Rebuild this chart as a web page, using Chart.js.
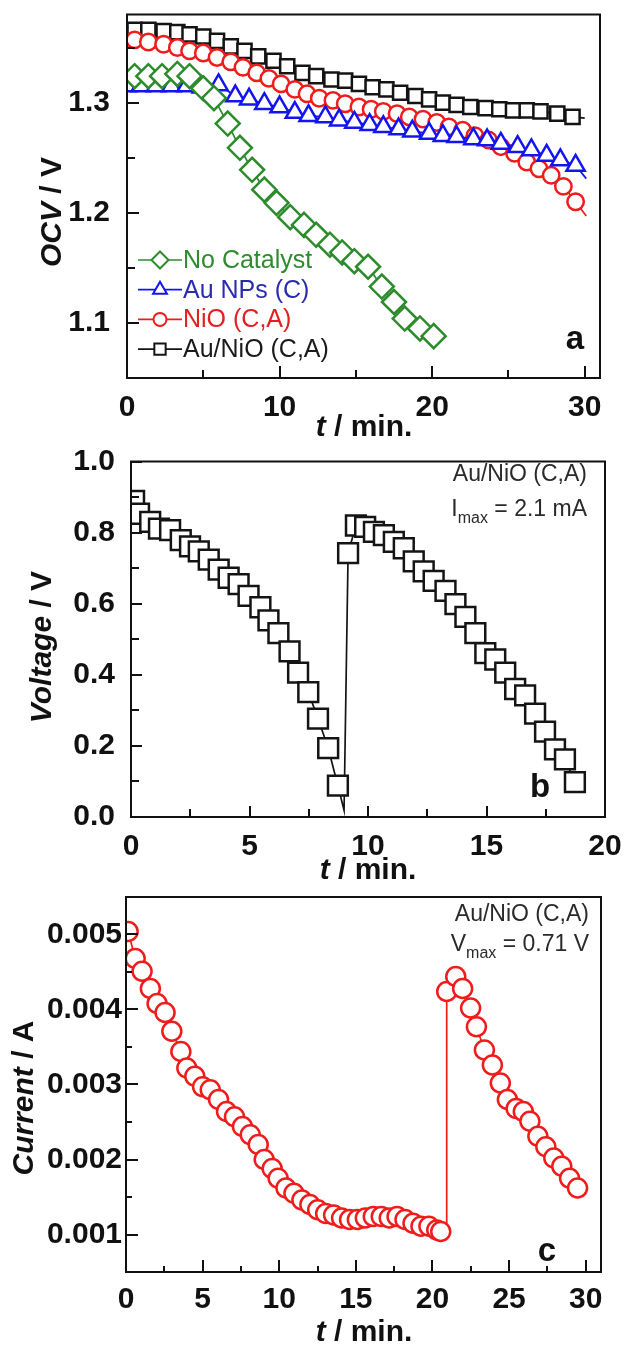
<!DOCTYPE html>
<html>
<head>
<meta charset="utf-8">
<script src="https://cdn.jsdelivr.net/npm/chart.js@4.4.1/dist/chart.umd.min.js"></script>
<style>
  html, body { margin: 0; padding: 0; background: #fff; }
  #wrap { position: relative; width: 624px; height: 1346px; background: #fff; overflow: hidden; }
  #wrap canvas { position: absolute; left: 0; }
</style>
</head>
<body>
<div id="wrap">
  <canvas id="panelA" width="624" height="445" style="top:0px"></canvas>
  <canvas id="panelB" width="624" height="440" style="top:445px"></canvas>
  <canvas id="panelC" width="624" height="461" style="top:885px"></canvas>
</div>
<script>
// ---------- (a) open-circuit voltage, four electrode configurations ----------
const tNoCat   = [0.5, 1.4, 2.3, 3.3, 4.1, 5.0, 5.7, 6.6, 7.4, 8.2, 9.0, 9.8, 10.7, 11.6, 12.4, 13.3, 14.1, 14.9, 15.8, 16.7, 17.5, 18.2, 19.2, 20.1];
const ocvNoCat = [1.324, 1.324, 1.324, 1.326, 1.324, 1.313, 1.304, 1.281, 1.259, 1.239, 1.221, 1.209, 1.196, 1.189, 1.180, 1.171, 1.164, 1.156, 1.151, 1.133, 1.119, 1.104, 1.095, 1.088];

const tAuNP   = [0.0, 0.9, 1.9, 2.9, 3.9, 4.9, 6.0, 7.1, 8.0, 9.0, 10.0, 11.0, 11.9, 13.0, 13.9, 14.9, 15.9, 16.8, 17.8, 18.7, 19.8, 20.7, 21.6, 22.7, 23.6, 24.5, 25.6, 26.5, 27.5, 28.4, 29.4, 30.1];
const ocvAuNP = [1.315, 1.315, 1.315, 1.315, 1.315, 1.314, 1.316, 1.306, 1.303, 1.299, 1.296, 1.291, 1.288, 1.287, 1.284, 1.282, 1.280, 1.278, 1.276, 1.274, 1.272, 1.270, 1.269, 1.267, 1.266, 1.263, 1.260, 1.257, 1.252, 1.248, 1.243, 1.231];

const tNiO   = [0.5, 1.4, 2.4, 3.3, 4.1, 5.0, 5.9, 6.8, 7.6, 8.5, 9.3, 10.1, 11.0, 11.8, 12.6, 13.5, 14.3, 15.2, 16.0, 16.8, 17.7, 18.5, 19.4, 20.3, 21.1, 22.0, 22.8, 23.7, 24.5, 25.4, 26.2, 27.0, 27.8, 28.6, 29.4, 30.1];
const ocvNiO = [1.357, 1.355, 1.353, 1.350, 1.347, 1.345, 1.341, 1.337, 1.332, 1.327, 1.322, 1.317, 1.312, 1.308, 1.304, 1.302, 1.299, 1.296, 1.294, 1.292, 1.290, 1.287, 1.285, 1.282, 1.278, 1.275, 1.270, 1.266, 1.260, 1.254, 1.246, 1.240, 1.234, 1.224, 1.210, 1.197];

const tAuNiO   = [0.5, 1.4, 2.4, 3.3, 4.1, 5.0, 5.9, 6.8, 7.7, 8.6, 9.6, 10.5, 11.5, 12.4, 13.4, 14.3, 15.2, 16.1, 17.0, 17.9, 18.9, 19.8, 20.7, 21.6, 22.5, 23.5, 24.4, 25.3, 26.2, 27.1, 28.2, 29.2, 30.0];
const ocvAuNiO = [1.366, 1.366, 1.365, 1.364, 1.362, 1.360, 1.356, 1.351, 1.347, 1.342, 1.338, 1.333, 1.327, 1.324, 1.321, 1.320, 1.317, 1.314, 1.312, 1.309, 1.306, 1.303, 1.300, 1.298, 1.296, 1.295, 1.294, 1.293, 1.293, 1.292, 1.290, 1.287, 1.286];

// samples that belong to the trace but carry no marker (end of the recording)
const auNPTail = [31], niOTail = [35], auNiOTail = [32];

const ocvTicks = [1.1, 1.2, 1.3], ocvMinor = [1.15, 1.25, 1.35];
const tTicksA  = [0, 10, 20, 30], tMinorA = [5, 15, 25];

// ---------- (b) cell voltage under 2.1 mA load ----------
const tLoad = [0.13, 0.34, 0.81, 1.18, 1.65, 2.1, 2.49, 2.86, 3.28, 3.7, 4.12, 4.54, 4.96, 5.46, 5.8, 6.22, 6.69, 7.05, 7.48, 7.89, 8.32, 8.73, 8.99,
               9.16, 9.49, 9.88, 10.25, 10.67, 11.09, 11.51, 11.93, 12.35, 12.77, 13.27, 13.69, 14.11, 14.53, 14.95, 15.37, 15.79, 16.21, 16.63, 17.05, 17.47, 17.89, 18.31, 18.73];
const vLoad = [0.889, 0.853, 0.830, 0.811, 0.807, 0.779, 0.761, 0.747, 0.724, 0.696, 0.673, 0.655, 0.622, 0.590, 0.553, 0.517, 0.466, 0.406, 0.351, 0.277, 0.194, 0.088, 0.019,
               0.742, 0.820, 0.816, 0.802, 0.793, 0.774, 0.756, 0.719, 0.691, 0.664, 0.636, 0.599, 0.563, 0.517, 0.461, 0.443, 0.406, 0.360, 0.342, 0.291, 0.240, 0.190, 0.162, 0.098];
const loadTroughIdx = [22];
const vTicks = [0.0, 0.2, 0.4, 0.6, 0.8, 1.0], vMinor = [0.1, 0.3, 0.5, 0.7, 0.9];
const tTicksB = [0, 5, 10, 15, 20], tMinorB = [2.5, 7.5, 12.5, 17.5];

// ---------- (c) cell current at 0.71 V ----------
const tCur = [0.14, 0.6, 1.05, 1.59, 2.03, 2.55, 2.99, 3.58, 3.97, 4.49, 5.0, 5.5, 6.04, 6.56, 7.08, 7.6, 8.11, 8.63, 9.02, 9.54,
              9.93, 10.44, 10.96, 11.48, 12.0, 12.51, 13.03, 13.55, 14.07, 14.59, 15.1, 15.62, 16.14, 16.66, 17.18, 17.69, 18.21, 18.73, 19.25, 19.77,
              20.28, 20.54, 20.93, 20.93, 21.52, 21.97, 22.49, 22.87, 23.39, 23.91, 24.43, 24.89, 25.46, 25.93, 26.36, 26.88, 27.4, 27.92, 28.44, 28.95, 29.47];
const iCur = [0.00504, 0.00468, 0.00451, 0.00428, 0.00408, 0.00396, 0.00371, 0.00344, 0.00322, 0.00311, 0.00297, 0.00293, 0.00280, 0.00264, 0.00257, 0.00244, 0.00233, 0.00220, 0.00200, 0.00188,
              0.00175, 0.00162, 0.00155, 0.00146, 0.00140, 0.00133, 0.00128, 0.00126, 0.00122, 0.00120, 0.00120, 0.00122, 0.00124, 0.00124, 0.00122, 0.00124, 0.00120, 0.00115, 0.00111, 0.00111,
              0.00106, 0.00104, 0.00108, 0.00424, 0.00444, 0.00428, 0.00402, 0.00377, 0.00346, 0.00326, 0.00302, 0.00280, 0.00268, 0.00264, 0.00251, 0.00231, 0.00217, 0.00202, 0.00191, 0.00175, 0.00162];
const curStepIdx = [42];
const iTicks = [0.001, 0.002, 0.003, 0.004, 0.005], iMinor = [0.0015, 0.0025, 0.0035, 0.0045];
const tTicksC = [0, 5, 10, 15, 20, 25, 30], tMinorC = [2.5, 7.5, 12.5, 17.5, 22.5, 27.5];

// ---------- drawing helpers ----------
const FONT = "'Liberation Sans', Arial, Helvetica, sans-serif";
Chart.defaults.font.family = FONT;
Chart.defaults.animation = false;

const GREEN = '#2c8c2c', BLUE = '#1414f0', RED = '#f01c1c', BLACK = '#141414';

const pts = (ts, vs) => ts.map((t, i) => ({ x: t, y: vs[i] }));

function series(label, ts, vs, color, style, r, noMarker = []) {
  return {
    label,
    data: pts(ts, vs),
    borderColor: color,
    borderWidth: 1.7,
    backgroundColor: '#fff',
    pointStyle: style,
    pointRadius: (ctx) => (noMarker.includes(ctx.dataIndex) ? 0 : r),
    pointHoverRadius: (ctx) => (noMarker.includes(ctx.dataIndex) ? 0 : r),
    pointBorderColor: color,
    pointBackgroundColor: '#fff',
    pointBorderWidth: 2.5,
    tension: 0,
    fill: false
  };
}

// linear axis with an exact list of labelled values and a fixed thickness,
// so that the plot frame lands on the same pixels in every panel
function axis(min, max, ticks, fmt, size, pad, fixed, horizontal) {
  return {
    type: 'linear',
    min, max,
    grid: { display: false, drawTicks: false },
    border: { display: false },
    afterBuildTicks: (s) => { s.ticks = ticks.map((v) => ({ value: v })); },
    afterFit: (s) => {
      if (horizontal) s.height = fixed; else s.width = fixed;
      s.paddingTop = 0; s.paddingBottom = 0; s.paddingLeft = 0; s.paddingRight = 0;
    },
    ticks: {
      autoSkip: false, maxRotation: 0, padding: pad, color: '#111',
      font: { family: FONT, size, weight: 'bold' },
      callback: fmt
    }
  };
}

// draws a run of text pieces [text, fontStyle] centred on (0,0) of the current transform
function mixedText(ctx, parts, size) {
  const fonts = parts.map(([, st]) => `${st} bold ${size}px ${FONT}`);
  let total = 0;
  const widths = parts.map(([txt], i) => { ctx.font = fonts[i]; const w = ctx.measureText(txt).width; total += w; return w; });
  let x = -total / 2;
  ctx.textBaseline = 'middle';
  ctx.textAlign = 'left';
  parts.forEach(([txt], i) => { ctx.font = fonts[i]; ctx.fillText(txt, x, 0); x += widths[i]; });
}

function decor(cfg) {
  return {
    id: 'decor',
    afterDraw(chart) {
      const { ctx, chartArea: a, scales: { x, y } } = chart;
      ctx.save();
      ctx.strokeStyle = '#111';
      ctx.fillStyle = '#111';
      ctx.lineWidth = 2;
      // inward tick marks on bottom and left axes
      ctx.beginPath();
      const tickX = (vals, len) => vals.forEach((v) => { const p = Math.round(x.getPixelForValue(v)); ctx.moveTo(p, a.bottom); ctx.lineTo(p, a.bottom - len); });
      const tickY = (vals, len) => vals.forEach((v) => { const p = Math.round(y.getPixelForValue(v)); ctx.moveTo(a.left, p); ctx.lineTo(a.left + len, p); });
      tickX(cfg.xMajor, cfg.major); tickX(cfg.xMinor, cfg.minor);
      tickY(cfg.yMajor, cfg.major); tickY(cfg.yMinor, cfg.minor);
      ctx.stroke();
      // plot frame
      ctx.strokeRect(a.left, a.top, a.right - a.left, a.bottom - a.top);

      // axis titles
      ctx.save();
      ctx.translate(cfg.xTitleAt[0], cfg.xTitleAt[1]);
      mixedText(ctx, cfg.xTitle, cfg.titleSize);
      ctx.restore();
      ctx.save();
      ctx.translate(cfg.yTitleAt[0], cfg.yTitleAt[1]);
      ctx.rotate(-Math.PI / 2);
      mixedText(ctx, cfg.yTitle, cfg.titleSize);
      ctx.restore();

      // panel letter
      ctx.font = `bold 33px ${FONT}`;
      ctx.textAlign = 'center';
      ctx.textBaseline = 'middle';
      ctx.fillText(cfg.letter, cfg.letterAt[0], cfg.letterAt[1]);

      // annotation lines, right aligned; each line = [main, subscript, rest]
      if (cfg.notes) {
        ctx.fillStyle = '#2a2a2a';
        ctx.textBaseline = 'alphabetic';
        ctx.textAlign = 'left';
        cfg.notes.lines.forEach((ln, i) => {
          const big = `${cfg.notes.size}px ${FONT}`, small = `${cfg.notes.subSize}px ${FONT}`;
          ctx.font = big; const w0 = ctx.measureText(ln[0]).width; const w2 = ctx.measureText(ln[2]).width;
          ctx.font = small; const w1 = ctx.measureText(ln[1]).width;
          let px = cfg.notes.right - (w0 + w1 + w2);
          const base = cfg.notes.baselines[i];
          ctx.font = big; ctx.fillText(ln[0], px, base); px += w0;
          ctx.font = small; ctx.fillText(ln[1], px, base + cfg.notes.subDrop); px += w1;
          ctx.font = big; ctx.fillText(ln[2], px, base);
        });
      }

      // legend: line stub + marker + coloured label
      if (cfg.legend) {
        const L = cfg.legend;
        chart.data.datasets.forEach((ds, i) => {
          const yy = L.top + i * L.step;
          ctx.strokeStyle = ds.borderColor;
          ctx.lineWidth = 1.7;
          ctx.beginPath(); ctx.moveTo(L.x0, yy); ctx.lineTo(L.x1, yy); ctx.stroke();
          ctx.fillStyle = '#fff';
          ctx.lineWidth = 2;
          Chart.helpers.drawPoint(ctx, { pointStyle: ds.pointStyle, radius: L.radii[i], rotation: 0, borderWidth: 2 }, (L.x0 + L.x1) / 2, yy);
          ctx.fillStyle = L.textColors[i];
          ctx.font = `${L.size}px ${FONT}`;
          ctx.textAlign = 'left';
          ctx.textBaseline = 'middle';
          ctx.fillText(ds.label, L.x1 + 1, yy + 1);
        });
      }
      ctx.restore();
    }
  };
}

const baseOptions = (pad, scales) => ({
  responsive: false,
  animation: false,
  events: [],
  layout: { padding: pad },
  plugins: { legend: { display: false }, tooltip: { enabled: false } },
  scales
});

// ---------- panel (a) ----------
new Chart(document.getElementById('panelA'), {
  type: 'line',
  data: {
    datasets: [
      series('No Catalyst', tNoCat, ocvNoCat, GREEN, 'rectRot', 12),
      series('Au NPs (C)', tAuNP, ocvAuNP, BLUE, 'triangle', 10.5, auNPTail),
      series('NiO (C,A)', tNiO, ocvNiO, RED, 'circle', 8.2, niOTail),
      series('Au/NiO (C,A)', tAuNiO, ocvAuNiO, BLACK, 'rect', 10, auNiOTail)
    ]
  },
  options: baseOptions({ left: 0, right: 24, top: 14, bottom: 0 }, {
    x: axis(0, 31, tTicksA, (v) => String(v), 30, 12, 67, true),
    y: axis(1.05, 1.38, ocvTicks, (v) => v.toFixed(1), 30, 17, 127, false)
  }),
  plugins: [decor({
    xMajor: tTicksA, xMinor: tMinorA, yMajor: ocvTicks, yMinor: ocvMinor, major: 12, minor: 8,
    titleSize: 30,
    xTitle: [['t', 'italic'], [' / min.', 'normal']], xTitleAt: [364, 428],
    yTitle: [['OCV', 'italic'], [' / V', 'normal']], yTitleAt: [53, 212],
    letter: 'a', letterAt: [575, 340],
    legend: { x0: 138, x1: 182, top: 260, step: 29.7, size: 25, radii: [8.5, 8, 6.5, 8],
              textColors: ['#2e8b2e', '#2b2bb0', '#e32020', '#1a1a1a'] }
  })]
});

// ---------- panel (b) ----------
new Chart(document.getElementById('panelB'), {
  type: 'line',
  data: { datasets: [series('Au/NiO (C,A)', tLoad, vLoad, BLACK, 'rect', 14, loadTroughIdx)] },
  options: baseOptions({ left: 0, right: 19, top: 8, bottom: 0 }, {
    x: axis(0, 20, tTicksB, (v) => String(v), 30, 12, 68, true),
    y: axis(0, 1.0, vTicks, (v) => v.toFixed(1), 30, 16, 131, false)
  }),
  plugins: [decor({
    xMajor: tTicksB, xMinor: tMinorB, yMajor: vTicks, yMinor: vMinor, major: 11, minor: 8,
    titleSize: 30,
    xTitle: [['t', 'italic'], [' / min.', 'normal']], xTitleAt: [368, 426],
    yTitle: [['Voltage', 'italic'], [' / V', 'normal']], yTitleAt: [43, 202],
    letter: 'b', letterAt: [540, 343],
    notes: { right: 587, baselines: [36, 71], size: 23, subSize: 16, subDrop: 7,
             lines: [['Au/NiO (C,A)', '', ''], ['I', 'max', ' = 2.1 mA']] }
  })]
});

// ---------- panel (c) ----------
new Chart(document.getElementById('panelC'), {
  type: 'line',
  data: { datasets: [series('Au/NiO (C,A)', tCur, iCur, RED, 'circle', 9.5, curStepIdx)] },
  options: baseOptions({ left: 0, right: 23, top: 10, bottom: 0 }, {
    x: axis(0, 31, tTicksC, (v) => String(v), 30, 10, 74, true),
    y: axis(0.0005, 0.0055, iTicks, (v) => v.toFixed(3), 30, 4, 126, false)
  }),
  plugins: [decor({
    xMajor: tTicksC, xMinor: tMinorC, yMajor: iTicks, yMinor: iMinor, major: 12, minor: 6,
    titleSize: 30,
    xTitle: [['t', 'italic'], [' / min.', 'normal']], xTitleAt: [364, 448],
    yTitle: [['Current', 'italic'], [' / A', 'normal']], yTitleAt: [25, 213],
    letter: 'c', letterAt: [547, 367],
    notes: { right: 589, baselines: [36, 66], size: 23, subSize: 16, subDrop: 7,
             lines: [['Au/NiO (C,A)', '', ''], ['V', 'max', ' = 0.71 V']] }
  })]
});
</script>
</body>
</html>
